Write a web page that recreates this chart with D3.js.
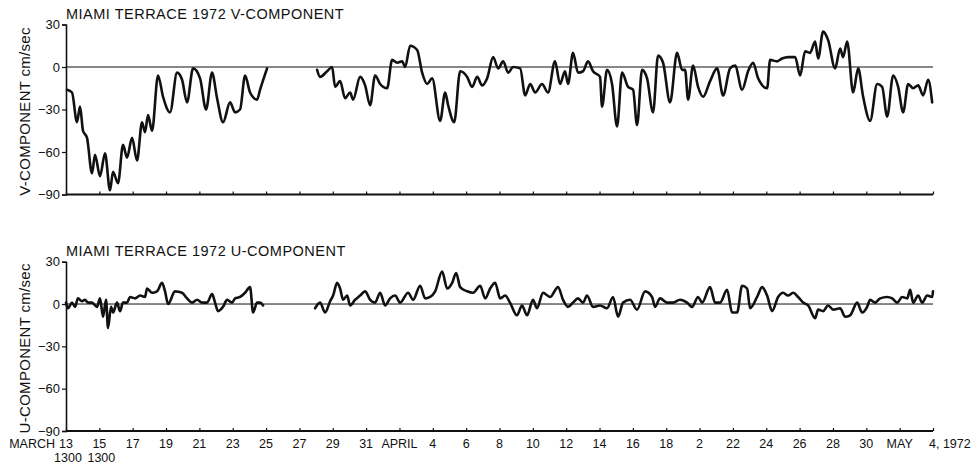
<!DOCTYPE html>
<html>
<head>
<meta charset="utf-8">
<script src="https://cdn.jsdelivr.net/npm/d3@7/dist/d3.min.js"></script>
<style>
  html, body { margin: 0; padding: 0; background: #fff; }
  svg { display: block; }
  text { font-family: "Liberation Sans", Arial, sans-serif; fill: #111; }
</style>
</head>
<body>
<svg id="chart" width="980" height="464"></svg>
<script>
// Current meter record, Miami Terrace 1972 — time in days after 13 March 1300.
// A null value marks the break in the record.
const vSeries = [
  [0.06,-16],[0.36,-18],[0.66,-39],[0.84,-28],[1.02,-45],[1.26,-50],[1.56,-75],[1.74,-62],
  [2.04,-77],[2.34,-61],[2.64,-87],[2.82,-74],[3.12,-82],[3.42,-55],[3.66,-64],[3.96,-50],
  [4.26,-66],[4.56,-39],[4.74,-46],[4.92,-34],[5.16,-45],[5.52,-6],[5.82,-21],[6.24,-32],
  [6.66,-4],[6.96,-9],[7.26,-25],[7.62,-1],[8.04,-8],[8.40,-30],[8.76,-4],[9.06,-22],
  [9.42,-39],[9.84,-25],[10.14,-32],[10.44,-30],[10.74,-6],[11.04,-18],[11.46,-23],[11.64,-16],
  [12.06,-1],
  [13.5,null],
  [15.06,-2],[15.24,-7],[15.66,-3],[15.96,0],[16.14,-14],[16.44,-10],[16.74,-22],[17.04,-18],
  [17.22,-23],[17.64,-7],[17.94,-13],[18.24,-27],[18.54,-6],[18.84,-12],[19.26,-15],[19.56,5],
  [19.86,3],[20.16,4],[20.34,0],[20.64,15],[21.06,12],[21.36,-4],[21.66,-12],[21.96,-8],
  [22.44,-38],[22.74,-18],[22.92,-27],[23.28,-39],[23.64,-3],[24.06,-7],[24.36,-14],[24.66,-7],
  [24.96,-13],[25.26,-8],[25.62,7],[25.92,-1],[26.22,4],[26.52,-4],[26.82,0],[27.24,-1],
  [27.54,-20],[27.84,-12],[28.14,-18],[28.55,-12],[28.91,-18],[29.33,4],[29.63,-12],[29.93,-3],
  [30.11,-12],[30.41,10],[30.71,-4],[31.01,-3],[31.31,4],[31.61,-3],[32.03,-7],[32.15,-28],
  [32.45,-2],[32.75,-12],[33.05,-42],[33.35,-4],[33.71,-14],[34.01,-16],[34.25,-41],[34.55,-2],
  [34.85,-8],[35.21,-32],[35.51,8],[35.81,3],[36.23,-25],[36.65,10],[36.95,-2],[37.13,-2],
  [37.31,-23],[37.61,1],[37.91,-14],[38.21,-21],[38.63,-10],[39.05,-1],[39.41,-20],[39.83,-1],
  [40.13,1],[40.55,-16],[40.91,-3],[41.21,3],[41.51,-8],[42.05,-15],[42.23,5],[42.65,4],
  [42.95,6],[43.31,7],[43.73,7],[44.03,-6],[44.33,11],[44.63,10],[44.93,18],[45.11,6],
  [45.41,25],[45.71,19],[46.13,-1],[46.43,13],[46.61,7],[46.85,18],[47.21,-18],[47.51,-1],
  [47.81,-21],[48.23,-38],[48.65,-12],[48.95,-14],[49.25,-35],[49.61,-6],[49.91,-14],[50.21,-32],
  [50.51,-12],[50.81,-15],[51.11,-13],[51.41,-20],[51.71,-9],[51.95,-25]
];

const uSeries = [
  [0.0,1],[0.12,-3],[0.36,1],[0.54,-2],[0.72,4],[0.96,2],[1.14,3],[1.32,1],
  [1.56,1],[1.86,-2],[2.04,4],[2.22,-9],[2.40,3],[2.52,-17],[2.70,-2],[2.82,-6],
  [3.06,1],[3.24,-5],[3.42,1],[3.66,1],[3.84,5],[4.14,4],[4.44,6],[4.74,5],
  [4.86,11],[5.16,8],[5.46,9],[5.76,15],[5.94,9],[6.12,0],[6.54,9],[6.96,8],
  [7.26,4],[7.56,1],[7.86,3],[8.16,1],[8.46,1],[8.76,7],[8.94,1],[9.12,-5],
  [9.42,-2],[9.66,3],[9.96,1],[10.14,4],[10.44,5],[10.74,8],[11.04,12],[11.22,-6],
  [11.46,1],[11.64,1],[11.82,-1],
  [13.5,null],
  [14.94,-3],[15.24,1],[15.54,-6],[15.84,2],[16.02,6],[16.26,15],[16.44,11],[16.62,3],
  [16.86,6],[17.04,-1],[17.34,3],[17.64,6],[17.94,9],[18.24,3],[18.54,1],[18.84,8],
  [19.14,-1],[19.44,4],[19.74,6],[20.04,1],[20.52,8],[20.82,3],[21.24,13],[21.54,4],
  [21.84,5],[22.14,9],[22.56,23],[22.86,11],[23.16,15],[23.40,22],[23.64,12],[24.06,9],
  [24.42,8],[24.84,13],[25.14,4],[25.44,11],[25.74,15],[26.04,4],[26.34,6],[26.63,1],
  [27.05,-8],[27.35,-1],[27.65,-8],[28.01,3],[28.25,-3],[28.61,8],[29.03,5],[29.51,12],
  [29.81,3],[30.11,-2],[30.41,1],[30.71,4],[31.01,1],[31.25,6],[31.61,-2],[32.03,-1],
  [32.45,-3],[32.81,5],[33.11,-9],[33.41,1],[33.83,3],[34.25,-4],[34.73,9],[35.15,5],
  [35.33,-2],[35.63,4],[36.05,1],[36.41,1],[36.83,3],[37.25,1],[37.55,-2],[37.91,5],
  [38.15,1],[38.63,12],[38.93,1],[39.23,1],[39.65,10],[39.95,-6],[40.25,-6],[40.55,13],
  [40.85,11],[41.03,-3],[41.45,5],[41.75,12],[42.05,6],[42.35,-5],[42.71,5],[43.01,8],
  [43.31,6],[43.61,8],[43.91,5],[44.21,1],[44.51,-1],[44.93,-10],[45.11,-4],[45.41,-5],
  [45.71,-1],[46.01,-4],[46.43,-3],[46.73,-9],[47.03,-8],[47.45,1],[47.75,-6],[48.05,-2],
  [48.23,3],[48.53,1],[48.83,4],[49.25,5],[49.55,4],[49.85,1],[50.15,5],[50.45,4],
  [50.63,10],[50.81,1],[51.11,6],[51.35,1],[51.65,6],[51.95,5],[52.0,9]
];

// Axis labelling
const yTicks = [30, 0, -30, -60, -90];
const dayTicks = d3.range(0, 53, 2);
const dayLabels = ["13","15","17","19","21","23","25","27","29","31","APRIL","4","6","8",
  "10","12","14","16","18","2","22","24","26","28","30","MAY","4, 1972"];
const hourLabels = ["1300", "1300"];

const panels = [
  { title: "MIAMI TERRACE 1972 V-COMPONENT", axisTitle: "V-COMPONENT cm/sec",
    data: vSeries, top: 24.5, bottom: 194.5 },
  { title: "MIAMI TERRACE 1972 U-COMPONENT", axisTitle: "U-COMPONENT cm/sec",
    data: uSeries, top: 261.7, bottom: 431 }
];

const svg = d3.select("#chart");
const x = d3.scaleLinear().domain([0, 52]).range([66, 933]);

panels.forEach((p, i) => {
  const y = d3.scaleLinear().domain([-90, 30]).range([p.bottom, p.top]);
  const g = svg.append("g");

  // title
  g.append("text")
    .attr("x", 66).attr("y", y(30) - 6)
    .attr("font-size", 14.5).attr("letter-spacing", 0.5)
    .text(p.title);

  // vertical axis with outward ticks
  const yAxis = d3.axisLeft(y).tickValues(yTicks).tickSize(4).tickPadding(2)
    .tickFormat(d3.format("d"));
  const ya = g.append("g").attr("transform", `translate(${x(0)},0)`).call(yAxis);
  ya.select(".domain").attr("stroke", "#111").attr("stroke-width", 1.6);
  ya.selectAll(".tick line").attr("stroke", "#111").attr("stroke-width", 1.2);
  ya.selectAll(".tick text").attr("font-size", 13)
    .attr("font-family", "Liberation Sans, Arial, sans-serif").attr("fill", "#111");

  // rotated axis title
  g.append("text")
    .attr("transform", `translate(26,${(y(30) + y(-90)) / 2 + 2}) rotate(-90)`)
    .attr("text-anchor", "middle").attr("dominant-baseline", "middle")
    .attr("font-size", 15).attr("letter-spacing", 0.3)
    .text(p.axisTitle);

  // zero reference line
  g.append("line")
    .attr("x1", x(0)).attr("x2", x(52))
    .attr("y1", y(0)).attr("y2", y(0))
    .attr("stroke", "#111").attr("stroke-width", 1);

  // time axis along -90 with inward ticks
  const xAxis = d3.axisTop(x).tickValues(dayTicks).tickSize(3).tickFormat("");
  const xa = g.append("g").attr("transform", `translate(0,${y(-90)})`).call(xAxis);
  xa.select(".domain").attr("stroke", "#111").attr("stroke-width", 1.8).attr("d",
    `M${x(0)},0H${x(52)}`);
  xa.selectAll(".tick line").attr("stroke", "#111").attr("stroke-width", 1.2);

  // current trace
  const line = d3.line()
    .defined(d => d[1] !== null)
    .x(d => x(d[0])).y(d => y(d[1]))
    .curve(d3.curveMonotoneX);
  g.append("path")
    .datum(p.data)
    .attr("d", line)
    .attr("fill", "none")
    .attr("stroke", "#111")
    .attr("stroke-width", 2.6)
    .attr("stroke-linejoin", "round")
    .attr("stroke-linecap", "round");

  if (i === 1) {
    const lab = svg.append("g").attr("font-size", 12.5);
    dayTicks.forEach((d, k) => {
      const txt = dayLabels[k];
      if (txt.startsWith("4,")) {
        lab.append("text").attr("x", x(d) - 4).attr("y", y(-90) + 17)
          .attr("text-anchor", "start").text(txt);
      } else {
        lab.append("text").attr("x", x(d)).attr("y", y(-90) + 17)
          .attr("text-anchor", "middle").text(txt);
      }
    });
    lab.append("text").attr("x", x(0) - 11).attr("y", y(-90) + 17)
      .attr("text-anchor", "end").text("MARCH");
    hourLabels.forEach((h, k) => {
      lab.append("text").attr("x", x(dayTicks[k]) + 2).attr("y", y(-90) + 31)
        .attr("text-anchor", "middle").text(h);
    });
  }
});
</script>
</body>
</html>
